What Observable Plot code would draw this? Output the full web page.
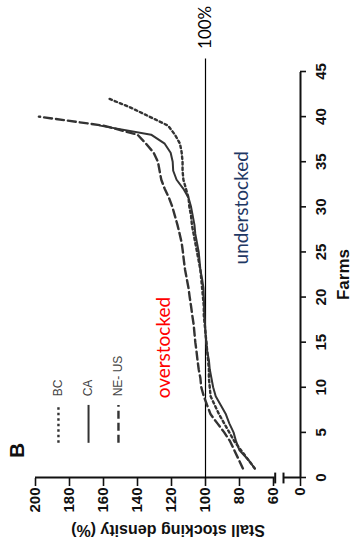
<!DOCTYPE html>
<html><head><meta charset="utf-8">
<script src="https://cdn.jsdelivr.net/npm/d3@7"></script>
<script src="https://cdn.jsdelivr.net/npm/@observablehq/plot@0.6"></script>
<style>
html,body{margin:0;padding:0;background:#fff;overflow:hidden;width:363px;height:552px;}
#wrap{position:absolute;left:0;top:0;width:552px;height:363px;transform-origin:0 0;transform:translateY(552px) rotate(-90deg);}
</style></head><body><div id="wrap"></div>
<script>
// Stall stocking density (%) of farms, ranked from lowest to highest
const seriesNames = ["BC", "CA", "NE- US"];
const densityBC = [71, 75, 79, 83, 86, 89, 92, 94.5, 97, 97.5, 98, 98, 98.5, 99, 99.5, 100, 100.5, 101, 101, 101.5, 102, 102.5, 103, 104, 105, 106, 107, 108, 108.5, 109.5, 110, 111.5, 113, 113.5, 113.5, 114, 115, 118, 122, 133, 144, 157];
const densityCA = [71, 75, 80, 82, 83.5, 86, 88, 91, 94, 95.5, 96.5, 97.5, 98, 99, 99.5, 100, 100.3, 100.6, 100.8, 101, 101.2, 102, 103, 103.5, 104, 105, 106, 106.5, 107.5, 108.5, 110, 113, 117, 119, 119.3, 120.5, 124, 132, 162];
const densityNEUS = [78, 80.5, 83, 85.5, 89, 93, 97, 99, 101, 102.5, 103, 104, 104.7, 105.3, 106, 106.5, 107, 107.8, 108.5, 109.3, 110, 111, 112, 112.7, 113.3, 114, 115.2, 116.5, 118, 119.5, 121.5, 124, 126, 127, 128, 130.5, 135, 140, 160, 198];
const farmTicks = [0, 5, 10, 15, 20, 25, 30, 35, 40, 45];
const densityTicks = [0, 60, 80, 100, 120, 140, 160, 180, 200];
const referenceDensity = [100];
const panelLabel = "B";
const xTitle = "Farms";
const yTitle = "Stall stocking density (%)";

const toRows = (name, arr) => arr.map((d, i) => ({series: name, farm: i + 1, density: d}));
const rowsBC = toRows(seriesNames[0], densityBC);
const rowsCA = toRows(seriesNames[1], densityCA);
const rowsNE = toRows(seriesNames[2], densityNEUS);

// broken density axis: 0..50 compressed below the 59..200 segment
const axisBreak = d3.scaleLinear().domain([0, 50, 59, 200]).range([44.12, 54.12, 59, 200]);

const ink = "#333";
const lineFont = "Lato, 'Open Sans', sans-serif";

const chart = Plot.plot({
  width: 552, height: 363,
  marginTop: 35, marginBottom: 63, marginLeft: 74, marginRight: 72,
  x: {domain: [0, 45]},
  y: {transform: axisBreak, range: [300, 35]},
  style: {fontFamily: "'Liberation Sans', Arial, sans-serif", fontSize: "15px", fontWeight: "bold", color: "#111", background: "white"},
  marks: [
    // axis lines (with break on density axis)
    Plot.ruleX([{y1: 59, y2: 200}, {y1: 0, y2: 50}], {x: 0, y1: "y1", y2: "y2", stroke: "#111", strokeWidth: 2}),
    Plot.ruleY([50, 59], {x1: -0.6, x2: 0.6, stroke: "#111", strokeWidth: 2}),
    Plot.ruleY([0], {x1: 0, x2: 45, stroke: "#111", strokeWidth: 2}),
    Plot.axisY(densityTicks, {anchor: "left", tickSize: 8, tickPadding: 2, label: null, strokeWidth: 1.6}),
    Plot.axisX({ticks: farmTicks, anchor: "bottom", tickSize: 6, tickPadding: 9, label: null, strokeWidth: 1.6}),
    Plot.text([xTitle], {frameAnchor: "bottom", dy: 43, fontSize: 17, fontWeight: "bold", textAnchor: "middle", lineAnchor: "middle"}),
    Plot.text([yTitle], {frameAnchor: "left", dx: -53, rotate: -90, fontSize: 16, fontWeight: "bold", textAnchor: "middle", lineAnchor: "middle"}),
    // 100% reference
    Plot.ruleY(referenceDensity, {x1: 0, x2: 46.5, stroke: "#000", strokeWidth: 1.2}),
    Plot.text(referenceDensity, {x: 46.5, y: d => d, text: d => d + "%", dx: 9, textAnchor: "start", fontSize: 17, fontWeight: "normal", fontFamily: lineFont, fill: "#000"}),
    // series
    Plot.line(rowsBC, {x: "farm", y: "density", stroke: ink, strokeWidth: 2.4, strokeDasharray: "2.5,3"}),
    Plot.line(rowsCA, {x: "farm", y: "density", stroke: ink, strokeWidth: 2}),
    Plot.line(rowsNE, {x: "farm", y: "density", stroke: ink, strokeWidth: 2.4, strokeDasharray: "8,4"}),
    // annotations
    Plot.text(["overstocked"], {x: 14.4, y: 124.7, fill: "#ff0000", fontSize: 19, fontWeight: "normal", fontFamily: lineFont, lineAnchor: "middle"}),
    Plot.text(["understocked"], {x: 29.9, y: 78.8, fill: "#1f3864", fontSize: 19, fontWeight: "normal", fontFamily: lineFont, lineAnchor: "middle"}),
    // legend
    Plot.text([panelLabel], {frameAnchor: "top-left", dx: 27, dy: -18, fontSize: 21, fontWeight: "bold", textAnchor: "middle", lineAnchor: "middle"}),
    Plot.ruleY([186.5], {x1: 3.9, x2: 8.1, stroke: ink, strokeWidth: 2.4, strokeDasharray: "2.5,3"}),
    Plot.ruleY([168.8], {x1: 3.9, x2: 8.1, stroke: ink, strokeWidth: 2}),
    Plot.ruleY([151.2], {x1: 3.9, x2: 8.1, stroke: ink, strokeWidth: 2.4, strokeDasharray: "8,4"}),
    Plot.text([seriesNames[0]], {x: 9.0, y: 186.5, textAnchor: "start", fontSize: 12, fontWeight: "normal", fill: "#444", lineAnchor: "middle"}),
    Plot.text([seriesNames[1]], {x: 9.0, y: 168.8, textAnchor: "start", fontSize: 12, fontWeight: "normal", fill: "#444", lineAnchor: "middle"}),
    Plot.text([seriesNames[2]], {x: 9.0, y: 151.2, textAnchor: "start", fontSize: 12, fontWeight: "normal", fill: "#444", lineAnchor: "middle"})
  ]
});
document.getElementById("wrap").appendChild(chart);
</script>
</body></html>
